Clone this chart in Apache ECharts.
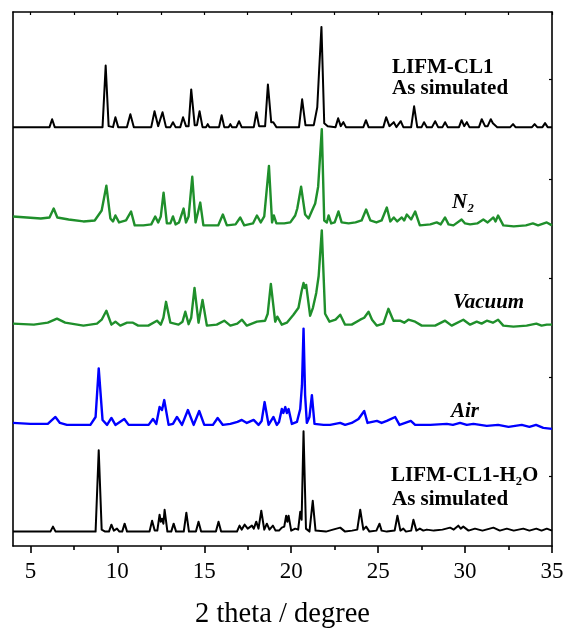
<!DOCTYPE html>
<html>
<head>
<meta charset="utf-8">
<script src="https://cdn.jsdelivr.net/npm/echarts@6/dist/echarts.min.js"></script>
<style>
  html, body { margin: 0; padding: 0; background: #ffffff; }
  #chart { width: 568px; height: 634px; }
</style>
</head>
<body>
<div id="chart"></div>
<script>
// PXRD patterns: [2theta (deg), intensity (arb.)], stacked bottom to top.
const cl1Simulated = [
  [4,0],[6.1,0],[6.25,8],[6.4,0],
  [9.15,0],[9.33,62],[9.5,1],[9.75,0],[9.89,10],[10.05,0],[10.55,0],[10.75,13],[10.95,0],
  [11.95,0],[12.14,16],[12.35,1],[12.45,1],[12.6,15],[12.8,0],[13.05,0],[13.2,5],[13.35,0],
  [13.62,0],[13.78,10],[13.95,1],[14.1,1],[14.25,38],[14.45,2],[14.58,2],[14.73,16],[14.9,0],
  [15.1,0],[15.2,3],[15.3,0],[15.85,0],[16.0,12],[16.15,0],[16.4,0],[16.5,3],[16.6,0],
  [16.85,0],[17.0,6],[17.15,0],[17.85,0],[18.0,15],[18.15,1],[18.5,1],[18.66,43],[18.85,5],
  [18.97,5],[19.15,0],[20.45,0],[20.63,28],[20.82,2],[21.3,2],[21.5,20],[21.6,55],[21.74,101],
  [21.9,4],[22.1,1],[22.55,0],[22.7,9],[22.85,1],[23.0,5],[23.15,0],[24.15,0],[24.3,7],
  [24.45,0],[25.3,0],[25.46,10],[25.65,1],[25.9,5],[26.05,0],[26.3,6],[26.45,0],[26.9,0],
  [27.07,21],[27.25,0],[27.5,0],[27.64,5],[27.8,0],[28.1,0],[28.28,6],[28.45,0],[28.7,0],
  [28.85,5],[29.0,0],[29.65,0],[29.8,7],[29.95,1],[30.1,5],[30.25,0],[30.8,0],[30.96,8],
  [31.15,1],[31.3,1],[31.48,8],[31.6,4],[31.7,5],[31.85,0],[32.6,0],[32.76,3],[32.9,0],
  [33.85,0],[34.0,3],[34.15,0],[34.45,0],[34.6,4],[34.75,0],[35,0]
];

const n2Pattern = [
  [4,10],[4.8,9],[5.6,8],[6.1,9],[6.34,18],[6.55,9],[7.2,7],[8.05,5],[8.7,6],[9.1,16],
  [9.37,41],[9.6,8],[9.75,5],[9.89,11],[10.1,4],[10.5,6],[10.79,15],[11.0,1],[11.5,1],
  [11.95,2],[12.18,10],[12.35,4],[12.5,10],[12.66,34],[12.85,3],[13.05,3],[13.2,10],
  [13.35,2],[13.55,4],[13.81,18],[13.95,4],[14.1,10],[14.31,50],[14.5,4],[14.6,6],
  [14.77,24],[14.95,1],[15.8,1],[16.07,12],[16.3,1],[16.8,2],[17.07,9],[17.3,1],[17.8,3],
  [18.03,11],[18.25,4],[18.45,10],[18.72,61],[18.9,4],[19.0,11],[19.15,3],[19.6,3],
  [19.95,4],[20.23,11],[20.35,18],[20.57,40],[20.8,12],[21.0,8],[21.2,16],[21.38,23],
  [21.55,40],[21.76,98],[21.9,6],[22.05,4],[22.15,11],[22.3,3],[22.5,4],[22.72,15],
  [22.9,4],[23.0,5],[23.3,3],[23.7,4],[24.05,6],[24.31,17],[24.55,6],[24.9,4],[25.2,6],
  [25.5,19],[25.7,5],[25.9,9],[26.1,5],[26.36,9],[26.5,6],[26.65,12],[26.9,7],[27.13,15],
  [27.4,1],[28.0,2],[28.37,4],[28.6,2],[28.85,9],[29.05,2],[29.33,1],[29.8,7],[30.0,3],
  [30.29,2],[30.7,3],[31.05,7],[31.3,4],[31.63,9],[31.75,5],[31.9,11],[32.2,1],[32.8,0],
  [33.5,1],[33.9,3],[34.2,1],[34.7,4],[35,1]
];

const vacuumPattern = [
  [4,2],[5.2,1],[6.0,3],[6.53,7],[7.0,3],[8.05,0],[8.83,2],[9.1,6],[9.37,15],[9.66,1],
  [9.89,4],[10.17,0],[10.56,3],[10.9,3],[11.2,0],[11.78,0],[12.28,5],[12.5,1],[12.65,8],
  [12.8,24],[13.05,3],[13.52,1],[13.75,4],[13.91,14],[14.1,1.5],[14.25,8],[14.44,38],
  [14.67,3],[14.9,26],[15.15,0],[15.72,1],[16.15,5],[16.5,0],[16.9,2],[17.17,6],[17.45,0],
  [18.03,4],[18.5,5],[18.65,12],[18.83,42],[19.08,4],[19.2,9],[19.46,1],[19.75,3],
  [20.13,11],[20.42,18],[20.6,35],[20.71,43],[20.78,38],[20.86,41],[21.09,10],[21.25,18],
  [21.44,33],[21.58,50],[21.76,96],[21.95,12],[22.2,4],[22.55,6],[22.82,11],[23.1,1],
  [23.48,1],[23.97,6],[24.2,8],[24.45,14],[24.65,6],[24.93,0],[25.3,2],[25.59,17],
  [25.88,5],[26.26,5],[26.5,3],[26.74,6],[27.13,4],[27.51,0],[28.28,0],[28.85,5],
  [29.23,0],[29.9,6],[30.29,1],[30.67,4],[30.95,2],[31.25,5],[31.6,3],[31.9,6],[32.2,0],
  [32.78,-1],[33.54,0],[34.1,2],[34.4,0],[34.7,1],[35,1]
];

const airPattern = [
  [4,2],[5.0,1],[6.0,1],[6.44,8],[6.7,2],[7.1,0],[8.45,0],[8.75,8],[8.93,57],[9.15,5],
  [9.41,0],[9.66,7],[9.89,0],[10.4,6],[10.65,0],[11.8,0],[12.05,6],[12.24,1],[12.43,18],
  [12.57,15],[12.7,25],[12.95,0],[13.2,1],[13.43,8],[13.72,0],[14.06,15],[14.39,0],
  [14.71,14],[15.0,0],[15.5,0],[15.77,7],[16.07,0],[16.5,1],[16.91,3],[17.16,5],[17.45,2],
  [17.84,5],[18.12,0],[18.3,4],[18.47,23],[18.7,0],[18.98,8],[19.17,0],[19.3,3],[19.46,16],
  [19.55,12],[19.66,18],[19.75,12],[19.85,16],[20.04,1],[20.33,3],[20.52,16],[20.62,40],
  [20.71,97],[20.8,30],[20.9,2],[21.05,8],[21.19,30],[21.34,1],[21.86,0],[22.24,0],
  [22.82,2],[23.1,0],[23.48,2],[23.87,6],[24.2,14],[24.39,2],[24.93,4],[25.2,2],[25.5,4],
  [25.98,8],[26.23,0],[26.88,4],[27.13,0],[28.0,0],[28.95,1],[29.3,0],[29.71,2],[30.1,0],
  [30.48,1],[31.25,-1],[31.9,0],[32.5,-2],[33.26,0],[33.7,-2],[34.08,0],[34.5,-3],[35,-4]
];

const h2oSimulated = [
  [4,0],[6.15,0],[6.3,5],[6.45,0],[8.75,0],[8.93,82],[9.1,2],[9.3,0],[9.52,0],[9.66,7],
  [9.8,1],[9.98,3],[10.12,0],[10.28,0],[10.42,8],[10.56,0],[11.85,0],[12.0,11],[12.15,1],
  [12.3,1],[12.43,17],[12.5,10],[12.57,13],[12.65,8],[12.72,22],[12.88,0],[13.1,0],
  [13.24,8],[13.38,0],[13.82,0],[13.97,19],[14.12,0],[14.52,0],[14.67,10],[14.82,0],
  [15.67,0],[15.82,10],[15.97,0],[16.88,0],[17.03,6],[17.15,2],[17.32,7],[17.5,3],
  [17.74,6],[17.85,3],[17.99,10],[18.12,3],[18.28,21],[18.45,2],[18.6,8],[18.75,2],
  [18.95,6],[19.1,1],[19.3,1],[19.46,4],[19.6,5],[19.71,16],[19.78,10],[19.85,16],
  [20.0,1],[20.23,3],[20.4,2],[20.52,20],[20.6,12],[20.71,101],[20.85,3],[21.05,0],
  [21.24,31],[21.4,1],[22.0,0],[22.4,2],[22.82,4],[23.1,0],[23.5,1],[23.8,2],[23.97,22],
  [24.15,2],[24.31,5],[24.5,0],[24.9,1],[25.08,8],[25.2,1],[25.3,3],[25.5,0],[25.95,1],
  [26.11,16],[26.28,1],[26.45,3],[26.6,0],[26.9,1],[27.03,12],[27.2,1],[27.4,3],[27.6,1],
  [27.8,2],[28.2,1],[28.7,2],[29.14,4],[29.35,2],[29.61,6],[29.75,3],[29.9,5],[30.2,1],
  [30.57,3],[31.0,1],[31.63,4],[32.0,1],[32.4,3],[32.8,1],[33.35,3],[33.7,1],[34.1,3],
  [34.4,1],[34.7,3],[35,1]
];

// Axis ticks and labels
const majorTicks = [5, 10, 15, 20, 25, 30, 35];
const minorTicks = [7.5, 12.5, 17.5, 22.5, 27.5, 32.5];
const topTicks = [5, 7.5, 10, 12.5, 15, 17.5, 20, 22.5, 25, 27.5, 30, 32.5, 35];
const rightTicks = [70, 170, 270, 370, 470];

// Vertical stacking of the patterns (offset added to each intensity)
const stackOffsets = { h2o: 14.5, air: 122, vacuum: 222, n2: 322, cl1: 422 };

const serif = '"Liberation Serif", "Times New Roman", serif';
const GREEN = '#1f8f2b';

function shift(pattern, offset) {
  return pattern.map(p => [p[0], p[1] + offset]);
}

function lineSeries(name, pattern, offset, color, width) {
  return {
    name: name,
    type: 'line',
    data: shift(pattern, offset),
    showSymbol: false,
    symbol: 'none',
    smooth: false,
    lineStyle: { color: color, width: width, join: 'round' },
    itemStyle: { color: color },
    emphasis: { disabled: true },
    silent: true,
    z: 3
  };
}

function label(text, x, y, italic) {
  return {
    type: 'text',
    x: x,
    y: y,
    silent: true,
    style: {
      text: text,
      fill: '#000',
      font: (italic ? 'italic ' : '') + 'bold 21px ' + serif,
      textAlign: 'left',
      textVerticalAlign: 'middle',
      align: 'left',
      verticalAlign: 'middle'
    },
    z: 10
  };
}

const chart = echarts.init(document.getElementById('chart'), null, { renderer: 'canvas' });

const hiddenLabel = { show: false };

chart.setOption({
  animation: false,
  backgroundColor: '#ffffff',
  grid: { left: 13, right: 16, top: 12, bottom: 84, containLabel: false },
  xAxis: [
    {
      type: 'value', min: 4, max: 35, position: 'bottom', offset: 0,
      axisLine: { show: true, onZero: false, lineStyle: { color: '#000', width: 1.6 } },
      axisTick: { show: true, inside: false, length: 7, customValues: majorTicks,
                  lineStyle: { color: '#000', width: 1.6 } },
      axisLabel: { show: true, customValues: majorTicks, margin: 14, color: '#000',
                   fontFamily: serif, fontSize: 23 },
      splitLine: { show: false },
      name: '2 theta / degree', nameLocation: 'middle', nameGap: 54,
      nameTextStyle: { color: '#000', fontFamily: serif, fontSize: 28.5 }
    },
    {
      type: 'value', min: 4, max: 35, position: 'bottom', offset: 0,
      axisLine: { show: false, onZero: false },
      axisTick: { show: true, inside: false, length: 4, customValues: minorTicks,
                  lineStyle: { color: '#000', width: 1.6 } },
      axisLabel: hiddenLabel,
      splitLine: { show: false }
    },
    {
      type: 'value', min: 4, max: 35, position: 'top', offset: 0,
      axisLine: { show: true, onZero: false, lineStyle: { color: '#000', width: 1.6 } },
      axisTick: { show: true, inside: true, length: 3, customValues: topTicks,
                  lineStyle: { color: '#000', width: 1.2 } },
      axisLabel: hiddenLabel,
      splitLine: { show: false }
    }
  ],
  yAxis: [
    {
      type: 'value', min: 0, max: 538, position: 'left',
      axisLine: { show: true, onZero: false, lineStyle: { color: '#000', width: 1.6 } },
      axisTick: { show: false },
      axisLabel: hiddenLabel,
      splitLine: { show: false }
    },
    {
      type: 'value', min: 0, max: 538, position: 'right',
      axisLine: { show: true, onZero: false, lineStyle: { color: '#000', width: 1.6 } },
      axisTick: { show: true, inside: true, length: 3, customValues: rightTicks,
                  lineStyle: { color: '#000', width: 1.2 } },
      axisLabel: hiddenLabel,
      splitLine: { show: false }
    }
  ],
  series: [
    lineSeries('LIFM-CL1-H2O simulated', h2oSimulated, stackOffsets.h2o, '#000000', 2),
    lineSeries('Air', airPattern, stackOffsets.air, '#0000ff', 2.4),
    lineSeries('Vacuum', vacuumPattern, stackOffsets.vacuum, GREEN, 2.4),
    lineSeries('N2', n2Pattern, stackOffsets.n2, GREEN, 2.4),
    lineSeries('LIFM-CL1 simulated', cl1Simulated, stackOffsets.cl1, '#000000', 2)
  ],
  graphic: [
    label('LIFM-CL1', 392, 68, false),
    label('As simulated', 392, 89, false),
    label('N\u2082', 452, 203, true),
    label('Vacuum', 453, 303, true),
    label('Air', 451, 412, true),
    label('LIFM-CL1-H\u2082O', 391, 476, false),
    label('As simulated', 392, 500, false)
  ]
});
</script>
</body>
</html>
